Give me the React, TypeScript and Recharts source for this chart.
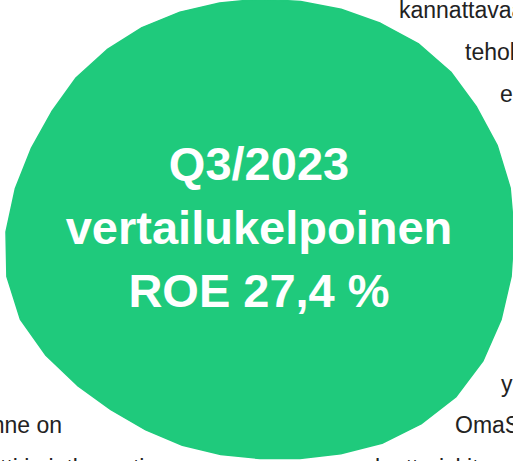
import { RadarChart, Radar, PolarAngleAxis, PolarRadiusAxis } from "recharts";

// blob outline: distance from the centre (px) every 10°, clockwise from the top
const blobAngles = [
  "90", "80", "70", "60", "50", "40", "30", "20", "10", "0", "-10", "-20",
  "-30", "-40", "-50", "-60", "-70", "-80", "-90", "-100", "-110", "-120", "-130", "-140",
  "-150", "-160", "-170", "-180", "-190", "-200", "-210", "-220", "-230", "-240", "-250", "-260",
];
const blobRadius = [
  233, 234, 237, 241, 246, 249, 250, 252.5, 254, 254, 255, 256.5,
  257.5, 256, 250.5, 244, 236, 230, 226.5, 226, 227, 228.5, 232, 238.5,
  247, 255, 257, 254, 248.5, 243.5, 240.5, 240, 238, 236, 234, 232.5,
];

const headline = ["Q3/2023", "vertailukelpoinen", "ROE 27,4 %"];

// body text fragments around the circle (cropped by the frame)
const rightWords = ["kannattavaa", "tehokkuutta", "erinomaista", "yhdessä", "OmaSäästöpankki", "luottoriskit"];
const leftWords = ["Tavoitteenne on", "tti ja jatkuvasti"];

const chartData = blobAngles.map((a, i) => ({ angle: a, r: blobRadius[i] }));

const W = 513;
const H = 461;

export default function App() {
  return (
    <div
      style={{
        position: "absolute",
        left: 0,
        top: 0,
        width: W,
        height: H,
        overflow: "hidden",
        background: "#ffffff",
      }}
    >
      <RadarChart
        width={W}
        height={H}
        data={chartData}
        cx={260}
        cy={232}
        outerRadius={300}
        margin={{ top: 0, right: 0, bottom: 0, left: 0 }}
      >
        <PolarAngleAxis dataKey="angle" tick={false} axisLine={false} tickLine={false} />
        <PolarRadiusAxis domain={[0, 300]} tick={false} axisLine={false} />
        <Radar
          dataKey="r"
          fill="#1fca7c"
          fillOpacity={1}
          stroke="#1fca7c"
          strokeWidth={1.5}
          strokeLinejoin="round"
          isAnimationActive={false}
        />
      </RadarChart>
      <svg
        width={W}
        height={H}
        style={{ position: "absolute", left: 0, top: 0, pointerEvents: "none" }}
        fontFamily="'Liberation Sans', Arial, sans-serif"
      >
        {headline.map((t, i) => (
          <text
            key={t}
            x={259}
            y={180 + i * 63.5}
            textAnchor="middle"
            fontSize={47}
            fontWeight="bold"
            fill="#ffffff"
          >
            {t}
          </text>
        ))}
        <g fontSize={23} fill="#222222">
          <text x={399} y={18}>{rightWords[0]}</text>
          <text x={465} y={60}>{rightWords[1]}</text>
          <text x={500} y={102}>{rightWords[2]}</text>
          <text x={501} y={392}>{rightWords[3]}</text>
          <text x={455} y={433}>{rightWords[4]}</text>
          <text x={375} y={476}>{rightWords[5]}</text>
          <text x={62} y={433} textAnchor="end">{leftWords[0]}</text>
          <text x={0} y={476}>{leftWords[1]}</text>
        </g>
      </svg>
    </div>
  );
}
